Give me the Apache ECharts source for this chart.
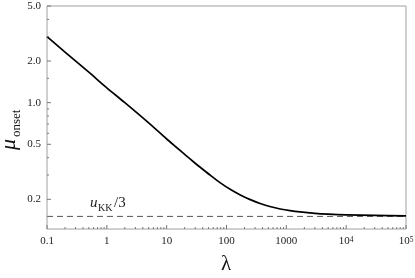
<!DOCTYPE html>
<html>
<head>
<meta charset="utf-8">
<script src="https://cdn.jsdelivr.net/npm/echarts@6/dist/echarts.min.js"></script>
<style>
html,body{margin:0;padding:0;background:#fff;}
#chart{width:415px;height:278px;}
</style>
</head>
<body>
<div id="chart"></div>
<script>
// ---- data ----
const lambdaValues = [0.1, 0.2, 0.5, 1, 2, 5, 10, 14, 20, 28, 40, 56, 80, 115, 170, 250, 365, 550, 790, 1150, 1700, 3000, 5000, 10000, 30000, 100000];
const muOnset      = [3.0, 2.32, 1.66, 1.28, 1.0, 0.714, 0.546, 0.482, 0.423, 0.374, 0.330, 0.294, 0.262, 0.2365, 0.2153, 0.199, 0.1866, 0.1766, 0.1703, 0.1656, 0.1621, 0.1585, 0.1564, 0.1545, 0.153, 0.152];
const uKKover3 = 0.1505;
const xRange = [0.1, 100000];
const yRange = [0.122, 5.0];
const xMajorTicks = [0.1, 1, 10, 100, 1000, 10000, 100000];
const xTickLabels = ['0.1', '1', '10', '100', '1000', '{b|10}{s|4}', '{b|10}{s|5}'];
const xMinorMultipliers = [2, 3, 4, 5, 6, 7, 8, 9];
const yMajorTicks = [0.2, 0.5, 1, 2, 5];
const yTickLabels = ['0.2', '0.5', '1.0', '2.0', '5.0'];
const yMinorTicks = [0.15, 0.3, 0.4, 0.6, 0.7, 0.8, 0.9, 1.5, 3, 4];

// build minor x ticks from decades
const xMinorTicks = [];
for (let i = 0; i < xMajorTicks.length - 1; i++) {
  xMinorMultipliers.forEach(m => xMinorTicks.push(xMajorTicks[i] * m));
}

const SERIF = '"Liberation Serif", "DejaVu Serif", serif';
const tickColor = '#777';
const labelColor = '#222';

const xTickData = xMajorTicks.map((v, i) => [v, yRange[0], 1, i]).concat(xMinorTicks.map(v => [v, yRange[0], 0, -1]));
const yTickData = yMajorTicks.map((v, i) => [xRange[0], v, 1, i]).concat(yMinorTicks.map(v => [xRange[0], v, 0, -1]));

const chart = echarts.init(document.getElementById('chart'), null, {renderer: 'canvas'});

chart.setOption({
  animation: false,
  backgroundColor: '#fff',
  grid: {left: 47, right: 9, top: 6, bottom: 49, show: true, borderColor: '#a0a0a0', borderWidth: 1, backgroundColor: 'transparent'},
  xAxis: {
    type: 'log', logBase: 10, min: xRange[0], max: xRange[1],
    axisLine: {show: false}, axisTick: {show: false}, axisLabel: {show: false}, splitLine: {show: false}
  },
  yAxis: {
    type: 'log', logBase: 10, min: yRange[0], max: yRange[1],
    axisLine: {show: false}, axisTick: {show: false}, axisLabel: {show: false}, splitLine: {show: false}
  },
  series: [
    {
      type: 'line',
      data: [[xRange[0], uKKover3], [xRange[1], uKKover3]],
      symbol: 'none',
      lineStyle: {color: '#555', width: 1, type: [6, 4]},
      silent: true, z: 2
    },
    {
      type: 'line',
      data: lambdaValues.map((x, i) => [x, muOnset[i]]),
      symbol: 'none',
      smooth: 0.3,
      lineStyle: {color: '#000', width: 1.7, join: 'round'},
      silent: true, z: 3
    },
    {
      type: 'custom',
      silent: true, z: 4,
      data: xTickData,
      renderItem: function (params, api) {
        const p = api.coord([api.value(0), api.value(1)]);
        const cs = params.coordSys;
        const yb = cs.y + cs.height;
        const major = api.value(2) === 1;
        const len = major ? 4 : 2;
        const children = [{
          type: 'line',
          shape: {x1: p[0], y1: yb, x2: p[0], y2: yb - len},
          style: {stroke: tickColor, lineWidth: 1}
        }];
        if (major) {
          const idx = api.value(3);
          children.push({
            type: 'text',
            x: p[0], y: yb + 7,
            style: {
              text: xTickLabels[idx], align: 'center', verticalAlign: 'top',
              fill: labelColor, font: '11px ' + SERIF,
              rich: {
                b: {fontSize: 11, fontFamily: SERIF, fill: labelColor, verticalAlign: 'bottom'},
                s: {fontSize: 7.5, fontFamily: SERIF, fill: labelColor, verticalAlign: 'top'}
              }
            }
          });
        }
        return {type: 'group', children: children};
      }
    },
    {
      type: 'custom',
      silent: true, z: 4,
      data: yTickData,
      renderItem: function (params, api) {
        const p = api.coord([api.value(0), api.value(1)]);
        const cs = params.coordSys;
        const xl = cs.x;
        const major = api.value(2) === 1;
        const len = major ? 4 : 2;
        const children = [{
          type: 'line',
          shape: {x1: xl, y1: p[1], x2: xl + len, y2: p[1]},
          style: {stroke: tickColor, lineWidth: 1}
        }];
        if (major) {
          const idx = api.value(3);
          children.push({
            type: 'text',
            x: xl - 6, y: p[1],
            style: {
              text: yTickLabels[idx], align: 'right', verticalAlign: 'middle',
              fill: labelColor, font: '11px ' + SERIF
            }
          });
        }
        return {type: 'group', children: children};
      }
    }
  ],
  graphic: [
    {type: 'text', x: 90, y: 211, style: {text: 'u', font: 'italic 15px ' + SERIF, fill: '#222', verticalAlign: 'bottom'}},
    {type: 'text', x: 98, y: 213, style: {text: 'KK', font: '10px ' + SERIF, fill: '#222', verticalAlign: 'bottom'}},
    {type: 'text', x: 114, y: 211, style: {text: '/3', font: '15px ' + SERIF, fill: '#222', verticalAlign: 'bottom'}},
    {
      type: 'group', x: 20, y: 150, rotation: Math.PI / 2,
      children: [
        {type: 'text', x: 0, y: 0, style: {text: 'μ', font: 'italic 22px ' + SERIF, fill: '#111', verticalAlign: 'bottom'}},
        {type: 'text', x: 13, y: 3, style: {text: 'onset', font: '13px ' + SERIF, fill: '#111', verticalAlign: 'bottom'}}
      ]
    },
    {
      type: 'text', x: 221, y: 254,
      style: {text: 'λ', font: '21px ' + SERIF, fill: '#111'}
    }
  ]
});
</script>
</body>
</html>
